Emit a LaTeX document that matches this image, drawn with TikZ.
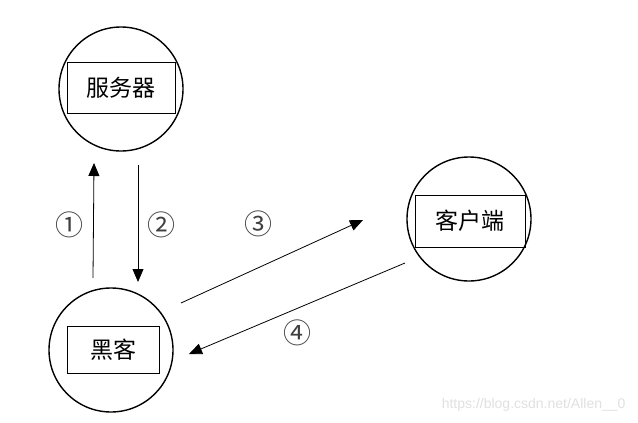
\documentclass[tikz,border=0pt]{standalone}
\usepackage{fontspec}
\setmainfont{Noto Sans CJK SC}
\newfontfamily\wmfont{Liberation Sans}
\usetikzlibrary{arrows.meta}
\begin{document}
\begin{tikzpicture}[x=1pt,y=-1pt,
  ring/.style={draw,circle,line width=1.4pt,minimum size=124pt,inner sep=0pt},
  label box/.style={draw,rectangle,line width=0.8pt,inner sep=0pt,font=\fontsize{23}{25}\selectfont},
  conn/.style={line width=0.8pt,-{Triangle[length=13pt,width=11pt]}},
  num/.style={text=black!75,font=\fontsize{28}{30}\selectfont}]
\useasboundingbox (0,0) rectangle (638,423);
% circles
\node[ring] (srv) at (121,89) {};
\node[ring] (hack) at (111,350) {};
\node[ring] (cli) at (469,219) {};
% boxes
\node[label box,minimum width=108pt,minimum height=51pt] (srvbox) at (121,87.5) {服务器};
\node[label box,minimum width=92pt,minimum height=47pt] (hackbox) at (113,349.5) {黑客};
\node[label box,minimum width=110pt,minimum height=52pt] (clibox) at (470,221) {客户端};
% connector endpoints
\coordinate (a1s) at (93,278); \coordinate (a1e) at (94,163);
\coordinate (a2s) at (138,165); \coordinate (a2e) at (138,282);
\coordinate (a3s) at (181,303); \coordinate (a3e) at (363,220);
\coordinate (a4s) at (405,263); \coordinate (a4e) at (189,354);
\draw[conn] (a1s) -- (a1e);
\draw[conn] (a2s) -- (a2e);
\draw[conn] (a3s) -- (a3e);
\draw[conn] (a4s) -- (a4e);
% labels
\node[num] (n1) at (70,225) {①};
\node[num] (n2) at (161,225) {②};
\node[num] (n3) at (258,224) {③};
\node[num] (n4) at (297,333) {④};
% watermark
\node[text=black!12,font=\wmfont\fontsize{14}{16}\selectfont,anchor=east] (wm) at (629,405) {https://blog.csdn.net/Allen\_\_0};
\end{tikzpicture}
\end{document}
